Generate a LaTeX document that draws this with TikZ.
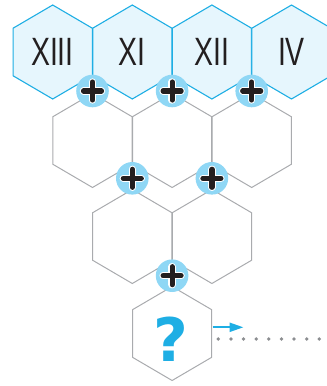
\documentclass[tikz,border=0pt]{standalone}
\usepackage{fontspec}
\setmainfont{Liberation Sans}
\newfontfamily\numfont[FakeStretch=0.72]{Liberation Sans}
\newfontfamily\qfont{DejaVu Sans}
\usetikzlibrary{arrows.meta}
\definecolor{hexcyan}{HTML}{1EAEE4}
\definecolor{hexfill}{HTML}{E6F6FD}
\definecolor{plusfill}{HTML}{8FD7F5}
\definecolor{hexgrey}{HTML}{A9ABAE}
\definecolor{dotgrey}{HTML}{8C8E91}
\definecolor{numblack}{HTML}{231F20}
\newcommand{\hexat}[1]{(#1) +(0,-47) -- +(39.6,-23.8) -- +(39.6,23.8) -- +(0,47) -- +(-39.6,23.8) -- +(-39.6,-23.8) -- cycle}
\tikzset{
  tophex/.style={draw=hexcyan, fill=hexfill, line width=1.1pt, line join=miter},
  greyhex/.style={draw=hexgrey, line width=1pt, line join=miter},
  numtext/.style={anchor=base, inner sep=0pt, text=numblack, font=\numfont\fontsize{39.5}{40}\selectfont},
  pics/plussign/.style={code={
    \fill[plusfill] (0,0) circle (16.3);
    \draw[white, line width=7.4pt, line cap=round] (-9,0) -- (9,0) (0,-9) -- (0,9);
    \draw[numblack, line width=5.2pt, line cap=round] (-9,0) -- (9,0) (0,-9) -- (0,9);
  }},
  arrowline/.style={hexcyan, line width=2.2pt, -{Triangle[length=14pt,width=9pt]}},
  dotline/.style={dotgrey, line width=3.8pt, line cap=round, dash pattern=on 0pt off 12.625pt},
}
\begin{document}
\begin{tikzpicture}[x=1pt,y=-1pt]
\useasboundingbox (0,0) rectangle (327,386);
\clip (0,0) rectangle (327,386);
% centres
\coordinate (h1) at (52.7,52);
\coordinate (h2) at (132.3,52);
\coordinate (h3) at (211.9,52);
\coordinate (h4) at (291.5,52);
\coordinate (g1) at (92.5,140.5);
\coordinate (g2) at (172.1,140.5);
\coordinate (g3) at (251.7,140.5);
\coordinate (k1) at (132.3,236.5);
\coordinate (k2) at (211.9,236.5);
\coordinate (q) at (172.1,333.5);
% top row
\foreach \h in {h1,h2,h3,h4} \filldraw[tophex] \hexat{\h};
\node[numtext] (t1) at (52.4,65) {XIII};
\node[numtext] (t2) at (132.3,65) {XI};
\node[numtext] (t3) at (211.9,65) {XII};
\node[numtext] (t4) at (291.5,65) {IV};
% grey rows
\foreach \h in {g1,g2,g3,k1,k2,q} \draw[greyhex] \hexat{\h};
% plus circles
\pic at (92.5,91) {plussign};
\pic at (172.1,91) {plussign};
\pic at (251.7,91) {plussign};
\pic at (132.3,178.3) {plussign};
\pic at (211.9,178.3) {plussign};
\pic at (172.1,275.7) {plussign};
% question mark
\node[anchor=base, inner sep=0pt, text=hexcyan, font=\qfont\bfseries\fontsize{60}{60}\selectfont] (qm) at (170.5,361.8) {?};
% arrow and dots
\coordinate (a0) at (212.6,327.3);
\coordinate (a1) at (243.5,327.3);
\draw[arrowline] (a0) -- (a1);
\coordinate (d0) at (218.3,339);
\coordinate (d1) at (319.4,339);
\draw[dotline] (d0) -- (d1);
\end{tikzpicture}
\end{document}
